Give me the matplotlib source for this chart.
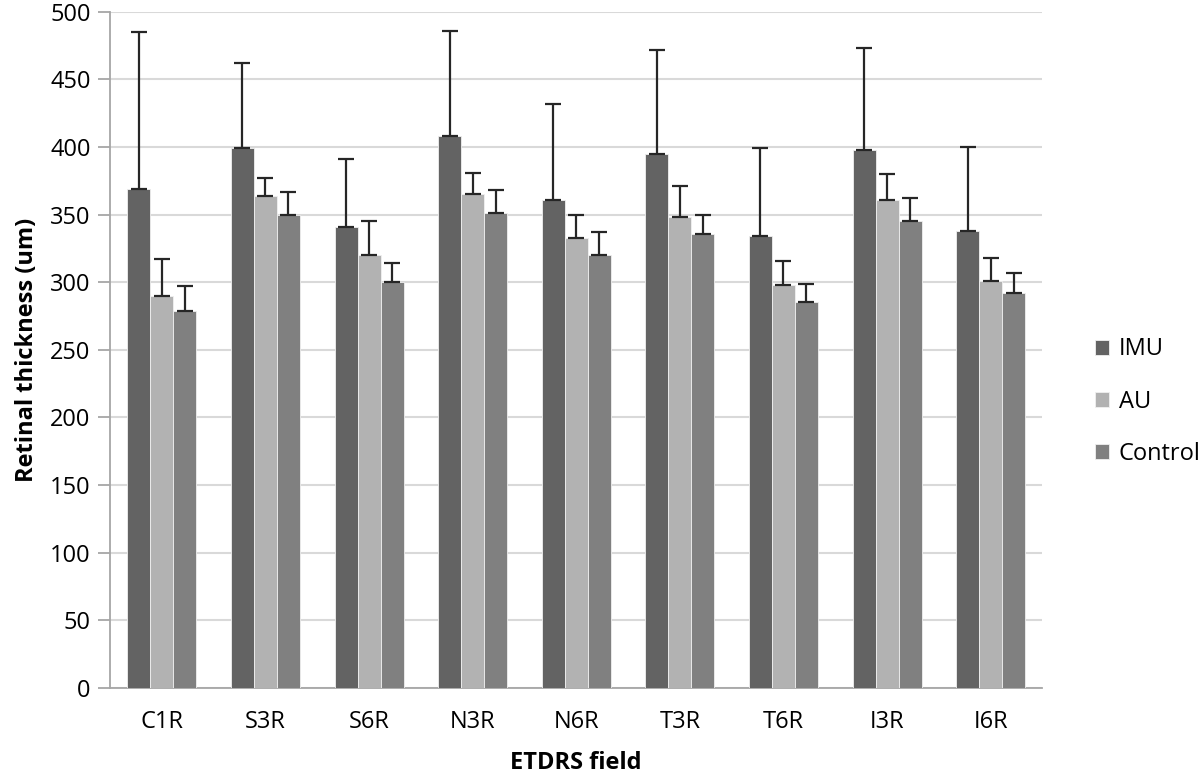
import matplotlib.pyplot as plt
import numpy as np

fields = ['C1R', 'S3R', 'S6R', 'N3R', 'N6R', 'T3R', 'T6R', 'I3R', 'I6R']
groups = ['IMU', 'AU', 'Control']

imu_mean = [369, 399, 341, 408, 361, 395, 334, 398, 338]
imu_top = [485, 462, 391, 486, 432, 472, 399, 473, 400]
au_mean = [290, 364, 320, 365, 333, 348, 298, 361, 301]
au_top = [317, 377, 345, 381, 350, 371, 316, 380, 318]
ctrl_mean = [279, 350, 300, 351, 320, 336, 285, 345, 292]
ctrl_top = [297, 367, 314, 368, 337, 350, 299, 362, 307]

colors = ['#636363', '#b2b2b2', '#808080']

plt.rcParams['font.family'] = ['Open Sans', 'DejaVu Sans']

fig = plt.figure(figsize=(12, 7.8), dpi=100)
ax = fig.add_axes([0.0917, 0.118, 0.777, 0.867])

x = np.arange(len(fields))
width = 0.222
series = [(imu_mean, imu_top), (au_mean, au_top), (ctrl_mean, ctrl_top)]
for i, (name, (mean, top), color) in enumerate(zip(groups, series, colors)):
    mean = np.array(mean)
    err = np.array(top) - mean
    ax.bar(x + (i - 1) * width, mean, width, color=color, label=name,
           yerr=[np.zeros_like(err), err], capsize=6,
           error_kw={'ecolor': '#262626', 'elinewidth': 1.6, 'capthick': 1.6},
           zorder=3, edgecolor='#f0f0f0', linewidth=0.6)

ax.set_xlim(-0.5, len(fields) - 0.5)
ax.set_ylim(0, 500)
ax.set_yticks(range(0, 501, 50))
ax.set_xticks(x)
ax.set_xticklabels(fields)
ax.grid(axis='y', color='#d9d9d9', linewidth=1.5, zorder=0)
ax.set_axisbelow(True)

for side in ['top', 'right']:
    ax.spines[side].set_visible(False)
for side in ['left', 'bottom']:
    ax.spines[side].set_color('#a6a6a6')
    ax.spines[side].set_linewidth(1.3)
ax.tick_params(axis='y', length=9, width=1.3, color='#a6a6a6', labelsize=17, pad=5)
ax.tick_params(axis='x', length=0, labelsize=17, pad=16)

ax.set_xlabel('ETDRS field', fontsize=17, fontweight='bold', labelpad=12)
ax.set_ylabel('Retinal thickness (um)', fontsize=17, fontweight='bold', labelpad=8)

fig.legend(loc='center left', bbox_to_anchor=(0.895, 0.485), frameon=False,
           fontsize=17, handlelength=0.6, handleheight=0.6, handletextpad=0.4,
           labelspacing=1.2)

fig.savefig('out.png')
